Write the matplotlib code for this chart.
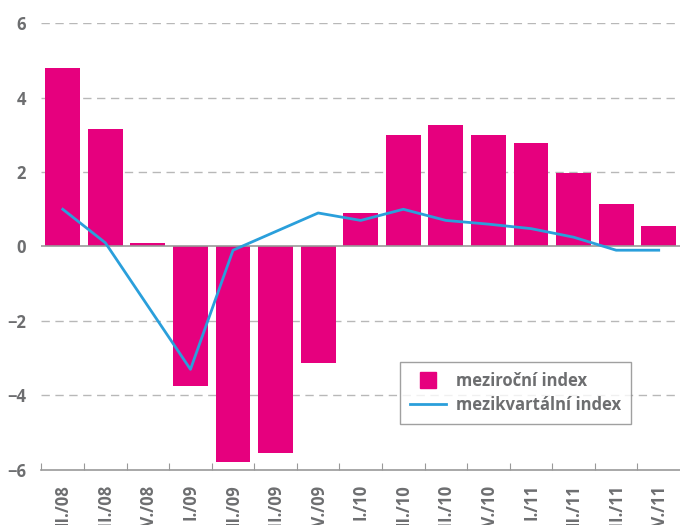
import matplotlib.pyplot as plt
from matplotlib.lines import Line2D

quarters = ["II./08", "III./08", "IV./08", "I./09", "II./09", "III./09", "IV./09",
            "I./10", "II./10", "III./10", "IV./10", "I./11", "II./11", "III./11", "IV./11"]
mezirocni = [4.8, 3.16, 0.1, -3.75, -5.8, -5.55, -3.13, 0.9, 3.0, 3.27, 3.0, 2.78, 1.98, 1.15, 0.56]
mezikvartalni = [1.0, 0.1, -1.6, -3.3, -0.1, 0.4, 0.9, 0.7, 1.0, 0.7, 0.6, 0.48, 0.25, -0.1, -0.1]

gray = "#6d6e70"
pink = "#e6007e"
blue = "#2a9fdb"

plt.rcParams["font.family"] = ["Open Sans", "DejaVu Sans"]

fig = plt.figure(figsize=(6.8, 5.25), dpi=100)
ax = fig.add_axes([0.061, 0.105, 0.939, 0.851])

x = range(len(quarters))
ax.bar(x, mezirocni, width=0.82, color=pink, zorder=2)
ax.plot(x, mezikvartalni, color=blue, lw=2, zorder=3)

ax.set_xlim(-0.5, len(quarters) - 0.5)
ax.set_ylim(-6, 6)
ax.set_yticks([-6, -4, -2, 0, 2, 4, 6])
ax.set_yticklabels(["\u22126", "\u22124", "\u22122", "0", "2", "4", "6"])
for v in [-4, -2, 2, 4, 6]:
    ax.axhline(v, color="#b8b8b8", lw=1, ls=(0, (6, 4)), zorder=1)
ax.axhline(0, color="#999999", lw=1.2, zorder=2.5)

ax.set_xticks([i - 0.5 for i in x], minor=False)
ax.set_xticklabels([])
ax.set_xticks(list(x), minor=True)
ax.set_xticklabels(quarters, minor=True, rotation=90, fontweight="bold",
                   color=gray, fontsize=12, va="top")
ax.tick_params(axis="x", which="major", direction="in", length=5, color="#999999")
ax.tick_params(axis="x", which="minor", length=0, pad=10)
ax.tick_params(axis="y", length=0, labelsize=12, labelcolor=gray, pad=11)
for t in ax.get_yticklabels():
    t.set_fontweight("bold")

for s in ["top", "right", "left"]:
    ax.spines[s].set_visible(False)
ax.spines["bottom"].set_color("#999999")
ax.spines["bottom"].set_linewidth(1.2)

handles = [Line2D([], [], ls="none", marker="s", markersize=11, color=pink),
           Line2D([], [], color=blue, lw=2)]
leg = ax.legend(handles, ["meziroční index", "mezikvartální index"],
                loc="lower right", bbox_to_anchor=(0.937, 0.085), frameon=True,
                fancybox=False, fontsize=12, handlelength=2.2, borderpad=0.6,
                labelspacing=0.35, handletextpad=0.6, labelcolor=gray)
leg.get_frame().set_edgecolor("#888888")
leg.get_frame().set_linewidth(1)
for t in leg.get_texts():
    t.set_fontweight("bold")

fig.savefig("out.png", dpi=100)
